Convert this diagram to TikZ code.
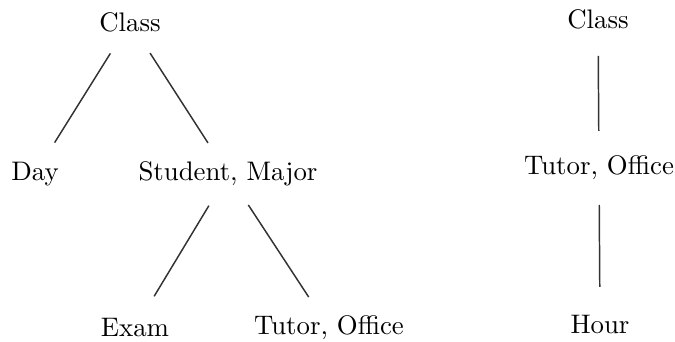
\documentclass[tikz,border=0pt]{standalone}
\usepackage{tikz}
\usepackage{amsmath}

\begin{document}
\begin{tikzpicture}[x=0.0131cm, y=-0.0131cm,
    attribute/.style ={inner sep=0pt},
    link/.style ={line width=0.55pt, black!80, shorten >=13.8pt, shorten <=13.8pt}]
   \useasboundingbox (0,0) rectangle (675,342);
   \node[attribute] (class) at (130,22)  {Class};
   \node[attribute] (day)  at (35,174)  {Day};
   \node[attribute] (stud)  at (228,174)  {Student, Major};
   \node[attribute] (exam) at (135,328)  {Exam};
   \node[attribute] (tutor) at (329,328)  {Tutor, Office};
   \node[attribute] (classB) at (598,19)  {Class};
   \node[attribute] (tutorB) at (599,168)  {Tutor, Office};
   \node[attribute] (hour) at (600,324)  {Hour};

   \draw[link] (class.center) to  (day.center);
   \draw[link] (class.center) to  (stud.center);
   \draw[link] (stud.center) to  (exam.center);
   \draw[link] (stud.center) to  (tutor.center);
   \draw[link] (classB.center) to  (tutorB.center);
   \draw[link] (tutorB.center) to  (hour.center);
 \end{tikzpicture}
\end{document}
